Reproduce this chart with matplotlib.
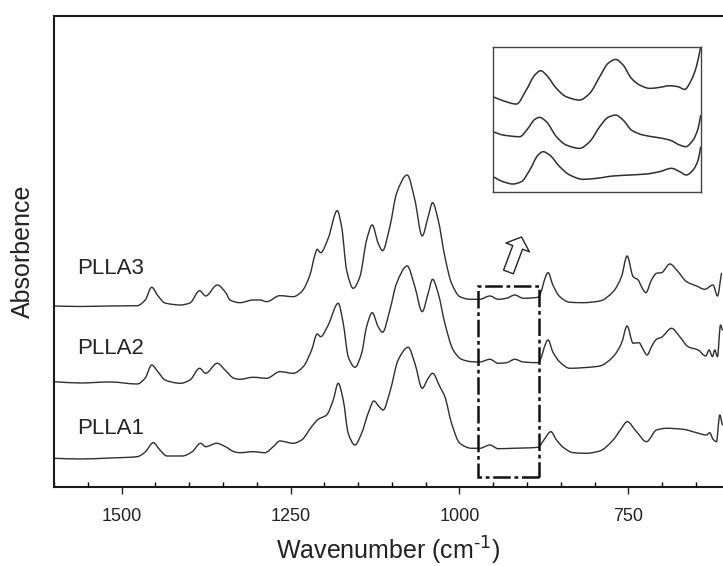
import matplotlib
matplotlib.use("Agg")
import matplotlib.pyplot as plt
import numpy as np
from matplotlib.ticker import MultipleLocator, FixedLocator
from matplotlib.patches import Rectangle, PathPatch
from matplotlib.path import Path

plt.rcParams['font.family'] = ['Liberation Sans', 'DejaVu Sans']

# ---------------- data (wavenumber in cm-1, absorbance offset, a.u.) -------------
wn3 = [1600, 1561.5, 1517, 1476.8, 1465, 1455.5, 1446, 1435.8, 1412.6, 1398.8, 1384.5, 1375.6,
       1358.4, 1345.6, 1339.6, 1324.9, 1305.2, 1295.3, 1285.4, 1265.7, 1246, 1233.6, 1221.3,
       1213.9, 1210.5, 1205.5, 1194.2, 1180.9, 1174.4, 1167, 1157.2, 1147.3, 1137.4, 1129.1,
       1120.3, 1113.8, 1103, 1093, 1077.4, 1066, 1055.2, 1046.3, 1039.8, 1031.5, 1021.6,
       1011.7, 999.4, 984.6, 969.8, 955, 942.7, 930.3, 918, 905.7, 883.6, 868.8, 861.8,
       851.5, 836.7, 817, 792.3, 772.6, 760.2, 751.9, 743, 735.6, 730.6, 724.2, 715.8,
       708.4, 701, 688.7, 676.5, 664, 649.2, 637, 624.7, 618.2, 612.3]
ab3 = [1.81, 1.805, 1.81, 1.813, 1.87, 1.997, 1.91, 1.84, 1.82, 1.84, 1.963, 1.91,
       2.02, 1.94, 1.87, 1.843, 1.87, 1.87, 1.853, 1.913, 1.903, 1.953, 2.12,
       2.32, 2.377, 2.343, 2.487, 2.763, 2.603, 2.17, 1.987, 2.103, 2.47, 2.62,
       2.437, 2.363, 2.603, 2.937, 3.12, 2.87, 2.51, 2.703, 2.843, 2.67, 2.303,
       2.037, 1.903, 1.877, 1.877, 1.91, 1.877, 1.887, 1.92, 1.887, 1.897, 2.143, 2.02,
       1.903, 1.847, 1.843, 1.86, 1.953, 2.103, 2.31, 2.103, 2.07, 2.003, 1.943, 2.07,
       2.137, 2.143, 2.23, 2.153, 2.053, 2.01, 1.977, 2.02, 1.91, 2.137]

wn2 = [1600, 1561.5, 1517, 1476.8, 1465, 1455.5, 1446, 1435.8, 1412.6, 1398.8, 1384.5, 1375.6,
       1358.4, 1345.6, 1333.7, 1324.9, 1305.2, 1285.4, 1265.7, 1246, 1231.2, 1218.8, 1210.5,
       1205.5, 1194.2, 1179.4, 1172, 1164.6, 1154.7, 1144.8, 1137.4, 1129.1, 1120.3, 1113.8,
       1103, 1093, 1077.4, 1066, 1055.2, 1046.3, 1039.8, 1031.5, 1021.6, 1009.3, 996.9,
       982.1, 969.8, 955, 942.7, 930.3, 918, 905.7, 883.6, 868.8, 861.8, 851.5, 836.7, 817,
       792.3, 772.6, 760.2, 751.9, 743, 734.2, 729.1, 722.3, 715.8, 708.4, 701, 686.2, 674,
       661.7, 646.9, 635.5, 630.6, 625.6, 622.2, 618.2, 613.7, 611]
ab2 = [1.053, 1.04, 1.05, 1.03, 1.09, 1.22, 1.15, 1.07, 1.037, 1.07, 1.187, 1.137,
       1.237, 1.16, 1.087, 1.077, 1.097, 1.087, 1.153, 1.137, 1.203, 1.37, 1.53,
       1.503, 1.62, 1.837, 1.637, 1.303, 1.197, 1.337, 1.603, 1.743, 1.603, 1.547,
       1.77, 2.037, 2.21, 2.003, 1.753, 1.937, 2.077, 1.937, 1.637, 1.37, 1.277,
       1.253, 1.25, 1.277, 1.237, 1.243, 1.277, 1.25, 1.243, 1.47, 1.35, 1.25, 1.187, 1.193,
       1.21, 1.303, 1.437, 1.61, 1.437, 1.443, 1.387, 1.32, 1.403, 1.477, 1.497, 1.587, 1.503,
       1.403, 1.37, 1.31, 1.37, 1.303, 1.37, 1.303, 1.62, 1.57]

wn1 = [1600, 1561.5, 1517, 1476.8, 1465, 1453.1, 1443.2, 1432.8, 1410.2, 1395.9, 1383, 1375.6,
       1359.3, 1345.6, 1333.7, 1324.9, 1305.2, 1287.9, 1275.6, 1265.7, 1246, 1233.6, 1218.8,
       1209, 1196.6, 1186.8, 1179.4, 1172, 1164.6, 1154.7, 1144.8, 1135.1, 1126.6, 1118.8,
       1112.9, 1103, 1090.7, 1075.9, 1066, 1055.2, 1046.3, 1039.8, 1029, 1021.6, 1011.7,
       999.4, 982.1, 969.8, 955, 942.7, 920.6, 883.6, 875.1, 864.8, 856.4, 846.6, 831.8, 812,
       792.3, 772.6, 760.2, 751.9, 738, 723.2, 708.4, 693.6, 669.1, 649.2, 634.5, 629.6,
       624.7, 619.7, 614.8, 611]
ab1 = [0.287, 0.28, 0.29, 0.303, 0.35, 0.443, 0.37, 0.31, 0.31, 0.35, 0.437, 0.403,
       0.437, 0.40, 0.353, 0.343, 0.353, 0.343, 0.403, 0.46, 0.437, 0.47, 0.603,
       0.677, 0.72, 0.87, 1.037, 0.87, 0.537, 0.42, 0.537, 0.737, 0.86, 0.803,
       0.77, 0.95, 1.27, 1.397, 1.237, 0.987, 1.087, 1.137, 1.003, 0.903, 0.637,
       0.437, 0.387, 0.387, 0.42, 0.383, 0.387, 0.397, 0.47, 0.553, 0.47, 0.397, 0.343, 0.337,
       0.36, 0.47, 0.587, 0.653, 0.553, 0.453, 0.57, 0.587, 0.577, 0.543, 0.52, 0.543,
       0.477, 0.453, 0.72, 0.62]

# inset (magnified 975-880 cm-1 region)
iwn3 = [975, 970.4, 964.3, 959.8, 955.9, 953.2, 950.6, 946, 941.5, 935.4, 930.8, 926.2, 922.4,
        918.9, 915.5, 911.7, 907.9, 903.3, 898.8, 894.2, 890.4, 887.3, 884.3, 882, 880]
iab3 = [2.87, 2.75, 2.65, 3.07, 3.52, 3.65, 3.52, 3.12, 2.87, 2.77, 2.97, 3.47, 3.87,
        3.99, 3.82, 3.42, 3.22, 3.12, 3.15, 3.20, 3.17, 3.09, 3.37, 3.77, 4.37]
iwn2 = [975, 970.4, 962.8, 959, 955.9, 953.7, 950.6, 946, 941.5, 935.4, 930.8, 926.2, 922.4,
        918.9, 915.5, 911.7, 906.4, 900.3, 894.2, 889.6, 886.9, 883.5, 881.2, 880]
iab2 = [1.82, 1.72, 1.67, 1.92, 2.19, 2.25, 2.12, 1.67, 1.42, 1.32, 1.52, 1.97, 2.25,
        2.32, 2.17, 1.87, 1.72, 1.65, 1.57, 1.42, 1.37, 1.57, 1.92, 2.32]
iwn1 = [975, 970.4, 965.9, 962, 958.2, 954.4, 952.1, 949.1, 944.5, 939.9, 933.8, 927.7, 920.1,
        912.5, 904.9, 898.8, 893.4, 889.6, 886.6, 883.5, 881.2, 880]
iab1 = [0.47, 0.32, 0.25, 0.32, 0.67, 1.12, 1.22, 1.12, 0.77, 0.52, 0.39, 0.42, 0.49,
        0.52, 0.55, 0.62, 0.72, 0.62, 0.52, 0.67, 0.97, 1.37]

series_names = ["PLLA1", "PLLA2", "PLLA3"]
label_pos_wn = 1566
label_pos_ab = [0.58, 1.38, 2.18]

box_wn = (972.3, 882.5)
box_ab = (0.103, 2.013)
arrow_tail = (927.5, 2.15)
arrow_tip = (908.1, 2.50)

xticks_major = [1500, 1250, 1000, 750]


def smooth_path(x, y):
    """Cubic Hermite (monotone tangents) through the read points, drawn as Bezier."""
    x = np.asarray(x, float)
    y = np.asarray(y, float)
    h = np.diff(x)
    d = np.diff(y) / h
    n = len(x)
    m = np.zeros(n)
    m[0], m[-1] = d[0], d[-1]
    for i in range(1, n - 1):
        if d[i - 1] * d[i] <= 0:
            m[i] = 0.0
        else:
            w1 = 2 * h[i] + h[i - 1]
            w2 = h[i] + 2 * h[i - 1]
            m[i] = (w1 + w2) / (w1 / d[i - 1] + w2 / d[i])
    verts = [(x[0], y[0])]
    codes = [Path.MOVETO]
    for i in range(n - 1):
        dx = h[i] / 3.0
        verts += [(x[i] + dx, y[i] + m[i] * dx),
                  (x[i + 1] - dx, y[i + 1] - m[i + 1] * dx),
                  (x[i + 1], y[i + 1])]
        codes += [Path.CURVE4] * 3
    return Path(verts, codes)


# ---------------- figure -------------
LC = '#2e2e2e'
fig = plt.figure(figsize=(7.23, 5.66), dpi=100)
ax = fig.add_axes([0.0747, 0.1396, 0.9253, 0.8322])

for wn, ab in [(wn1, ab1), (wn2, ab2), (wn3, ab3)]:
    ax.add_patch(PathPatch(smooth_path(wn, ab), fill=False, ec=LC, lw=1.0,
                           transform=ax.transData, joinstyle='round', capstyle='round'))

for name, yy in zip(series_names, label_pos_ab):
    ax.text(label_pos_wn, yy, name, fontsize=16, ha='left', va='center', color='#222222')

ax.add_patch(Rectangle((box_wn[1], box_ab[0]), box_wn[0] - box_wn[1], box_ab[1] - box_ab[0],
                       fill=False, ec='#111111', lw=1.8, ls=(0, (7, 1.5, 1.5, 1.5))))

ax.annotate('', xy=arrow_tip, xytext=arrow_tail,
            arrowprops=dict(arrowstyle='simple,head_length=8,head_width=18,tail_width=7.5',
                            mutation_scale=1, fc='white', ec='#222222', lw=1.0,
                            shrinkA=0, shrinkB=0))

ax.set_xlim(1600, 610)
ax.set_ylim(0, 4.71)
ax.xaxis.set_major_locator(FixedLocator(xticks_major))
ax.xaxis.set_minor_locator(MultipleLocator(50))
ax.tick_params(axis='x', which='major', direction='out', length=5, width=1.0,
               labelsize=13, pad=10, colors='#222222')
ax.tick_params(axis='x', which='minor', direction='in', length=3.5, width=1.0)
ax.set_yticks([])
for s in ['left', 'top', 'bottom']:
    ax.spines[s].set_linewidth(1.5)
    ax.spines[s].set_color('#1a1a1a')
ax.spines['right'].set_visible(False)

ax.set_xlabel('Wavenumber (cm$^{\\text{-1}}$)', fontsize=18, labelpad=7.5, color='#222222')
ax.set_ylabel('Absorbence', fontsize=18, labelpad=14, color='#222222')

# inset
axi = fig.add_axes([0.6819, 0.6602, 0.2873, 0.2572])
for wn, ab in [(iwn1, iab1), (iwn2, iab2), (iwn3, iab3)]:
    axi.add_patch(PathPatch(smooth_path(wn, ab), fill=False, ec=LC, lw=1.1,
                            transform=axi.transData))
axi.set_xlim(975, 880)
axi.set_ylim(0, 4.37)
axi.set_xticks([])
axi.set_yticks([])
for s in axi.spines.values():
    s.set_linewidth(1.0)
    s.set_color('#444444')

fig.savefig('out.png', dpi=100)
